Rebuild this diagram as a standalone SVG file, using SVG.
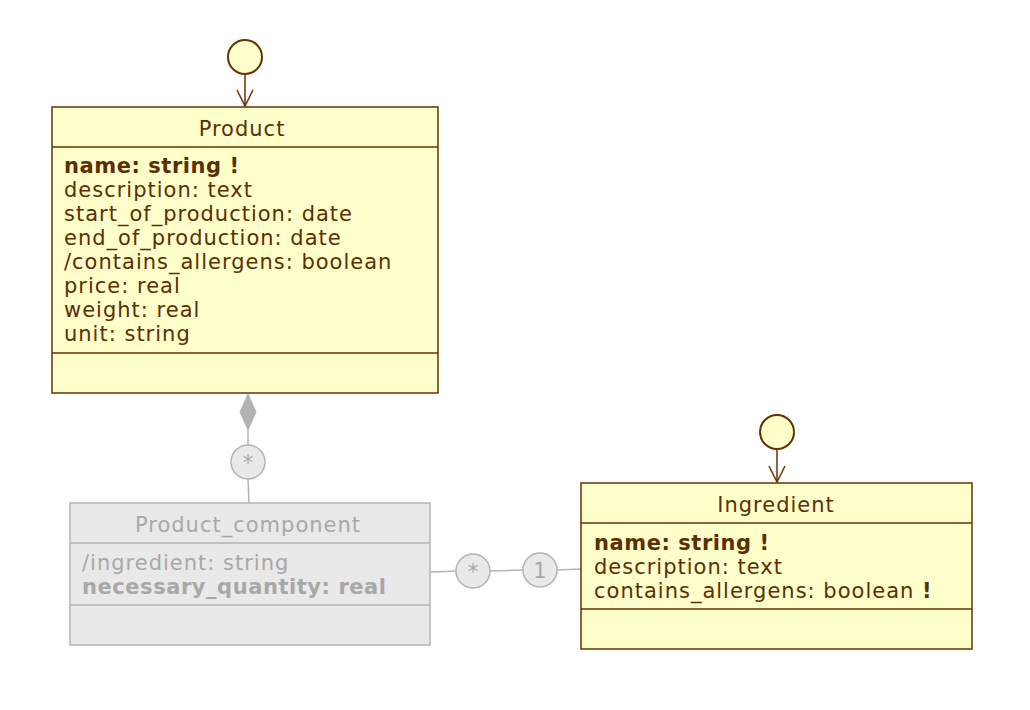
<svg xmlns="http://www.w3.org/2000/svg" width="1030" height="710" viewBox="0 0 1030 710">
<style>
.box{fill:#ffffcc;stroke:#663300;stroke-width:1.5}
.gbox{fill:#e9e9e9;stroke:#b3b3b3;stroke-width:1.5}
.sep{stroke:#663300;stroke-width:1.5}
.gsep{stroke:#b3b3b3;stroke-width:1.5}
text{font-family:"DejaVu Sans",Verdana,sans-serif;font-size:21px;letter-spacing:1px}
.t{fill:#5c2e00}
.g{fill:#a8a8a8}
.b{font-weight:bold;letter-spacing:0.55px}
.c{text-anchor:middle}
.ln{stroke:#663300;stroke-width:1.5;fill:none}
.gln{stroke:#b3b3b3;stroke-width:1.5;fill:none}
.mc{fill:#e9e9e9;stroke:#b3b3b3;stroke-width:1.5}
.init{fill:#ffffcc;stroke:#663300;stroke-width:2}
</style>
<g id="connectors">
<line class="ln" x1="245" y1="74" x2="245" y2="106"/>
<polyline class="ln" points="237,90 245,106 253,90"/>
<line class="ln" x1="777" y1="449" x2="777" y2="482"/>
<polyline class="ln" points="769,466 777,482 785,466"/>
<polygon points="248,394 256,412 248,430 240,412" fill="#b3b3b3" stroke="#b3b3b3"/>
<line class="gln" x1="248" y1="430" x2="248" y2="445"/>
<line class="gln" x1="248" y1="479" x2="249" y2="503"/>
<line class="gln" x1="431" y1="572" x2="456" y2="571"/>
<line class="gln" x1="490" y1="571" x2="523" y2="570"/>
<line class="gln" x1="557" y1="570" x2="581" y2="569"/>
</g>
<g id="init-product"><circle class="init" cx="245" cy="57" r="17"/></g>
<g id="init-ingredient"><circle class="init" cx="777" cy="432" r="17"/></g>
<g id="mult-star1"><circle class="mc" cx="248" cy="462" r="17"/><text class="g c" x="248" y="470" style="letter-spacing:0">*</text></g>
<g id="mult-star2"><circle class="mc" cx="473" cy="571" r="17"/><text class="g c" x="473" y="579" style="letter-spacing:0">*</text></g>
<g id="mult-one"><circle class="mc" cx="540" cy="570" r="17"/><text class="g c" x="540" y="578" style="letter-spacing:0">1</text></g>
<g id="Product">
<rect class="box" x="52" y="107" width="386" height="286"/>
<line class="sep" x1="52" y1="147" x2="438" y2="147"/>
<line class="sep" x1="52" y1="353" x2="438" y2="353"/>
<text class="t c" x="242" y="136">Product</text>
<text class="t b" x="64" y="173">name: string !</text>
<text class="t" x="64" y="197">description: text</text>
<text class="t" x="64" y="221">start_of_production: date</text>
<text class="t" x="64" y="245">end_of_production: date</text>
<text class="t" x="64" y="269">/contains_allergens: boolean</text>
<text class="t" x="64" y="293">price: real</text>
<text class="t" x="64" y="317">weight: real</text>
<text class="t" x="64" y="341">unit: string</text>
</g>
<g id="Product_component">
<rect class="gbox" x="70" y="503" width="360" height="142"/>
<line class="gsep" x1="70" y1="543" x2="430" y2="543"/>
<line class="gsep" x1="70" y1="605" x2="430" y2="605"/>
<text class="g c" x="248" y="532">Product_component</text>
<text class="g" x="82" y="570">/ingredient: string</text>
<text class="g b" x="82" y="594">necessary_quantity: real</text>
</g>
<g id="Ingredient">
<rect class="box" x="581" y="483" width="391" height="166"/>
<line class="sep" x1="581" y1="523" x2="972" y2="523"/>
<line class="sep" x1="581" y1="609" x2="972" y2="609"/>
<text class="t c" x="776" y="512">Ingredient</text>
<text class="t b" x="594" y="550">name: string !</text>
<text class="t" x="594" y="574">description: text</text>
<text class="t" x="594" y="598">contains_allergens: boolean <tspan class="b">!</tspan></text>
</g>
</svg>
